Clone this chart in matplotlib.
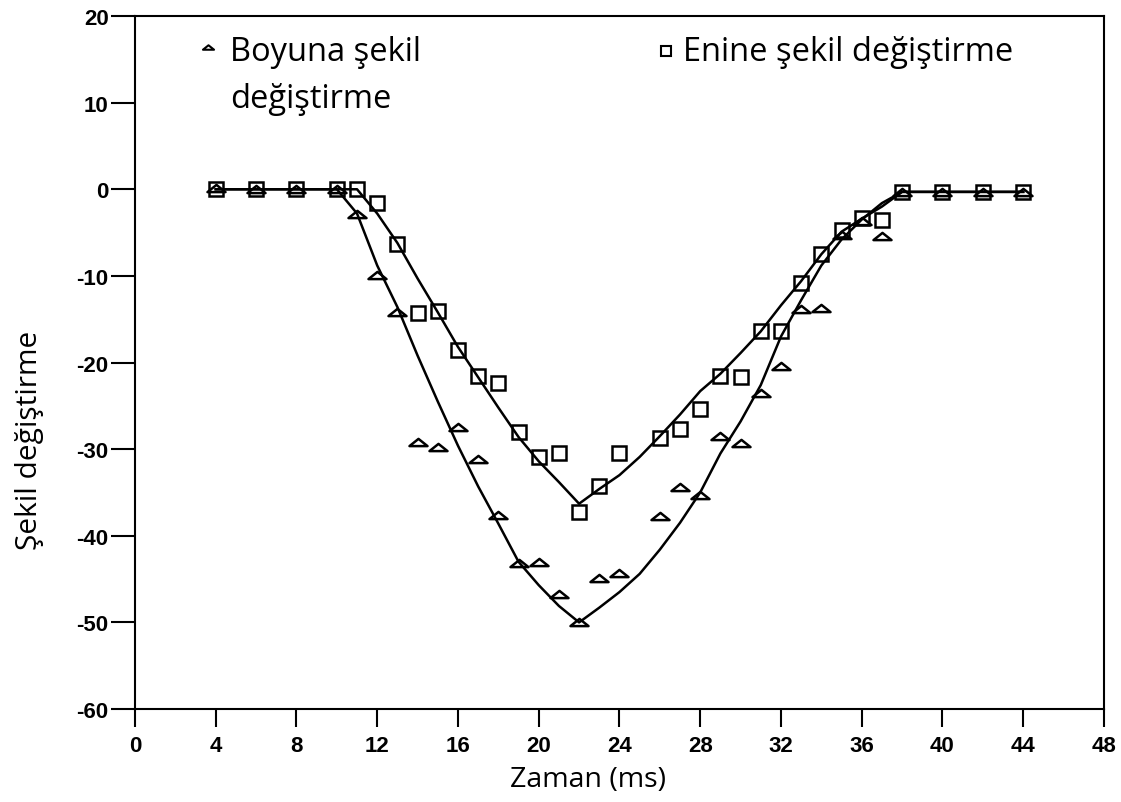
import matplotlib
matplotlib.use("Agg")
import matplotlib.pyplot as plt
from matplotlib.path import Path

# measured points (ms, strain)
boy_t = [4, 6, 8, 10, 11, 12, 13, 14, 15, 16, 17, 18, 19, 20, 21, 22, 23, 24,
         26, 27, 28, 29, 30, 31, 32, 33, 34, 35, 36, 37, 38, 40, 42, 44]
boy_v = [0.2, 0, 0, 0, -2.9, -9.9, -14.2, -29.2, -29.7, -27.4, -31.1, -37.6,
         -43.1, -43.0, -46.7, -50.0, -44.9, -44.3, -37.7, -34.4, -35.3, -28.5,
         -29.3, -23.5, -20.4, -13.8, -13.7, -5.3, -3.7, -5.4, -0.3, -0.3,
         -0.3, -0.3]

en_t = [4, 6, 8, 10, 11, 12, 13, 14, 15, 16, 17, 18, 19, 20, 21, 22, 23, 24,
        26, 27, 28, 29, 30, 31, 32, 33, 34, 35, 36, 37, 38, 40, 42, 44]
en_v = [0, 0, 0, 0, 0, -1.6, -6.3, -14.3, -14.0, -18.6, -21.5, -22.4, -28.0,
        -30.9, -30.5, -37.2, -34.3, -30.5, -28.7, -27.7, -25.4, -21.6, -21.7,
        -16.4, -16.4, -10.8, -7.5, -4.7, -3.3, -3.5, -0.3, -0.3, -0.3, -0.3]

# fitted curves
fit_t = [4, 6, 8, 10, 11, 12, 13, 14, 15, 16, 17, 18, 19, 20, 21, 22, 23, 24,
         25, 26, 27, 28, 29, 30, 31, 32, 33, 34, 35, 36, 37, 38, 40, 42, 44]
boy_fit = [0, 0, 0, 0, -2.8, -8.8, -13.6, -19.2, -24.5, -29.6, -34.3, -38.6,
           -43.0, -45.7, -48.1, -50.0, -48.3, -46.5, -44.4, -41.6, -38.5,
           -35.0, -30.5, -26.8, -22.6, -17.0, -12.8, -8.8, -5.8, -3.5, -1.6,
           -0.3, -0.3, -0.3, -0.3]
en_fit = [0, 0, 0, 0, 0, -2.8, -6.2, -10.3, -14.2, -18.2, -21.7, -25.2,
          -28.6, -31.4, -33.8, -36.3, -34.6, -33.0, -30.9, -28.5, -26.0,
          -23.3, -21.3, -18.9, -16.4, -13.4, -10.6, -7.5, -4.9, -3.4, -2.0,
          -0.3, -0.3, -0.3, -0.3]

xticks = list(range(0, 49, 4))
yticks = list(range(-60, 21, 10))

# flat open triangle
tri = Path([(-1, -0.4), (1, -0.4), (0, 0.4), (-1, -0.4)],
           [Path.MOVETO, Path.LINETO, Path.LINETO, Path.CLOSEPOLY])

txt_font = ["Open Sans", "DejaVu Sans"]
tick_font = ["Liberation Sans Narrow", "Liberation Sans", "DejaVu Sans"]

fig = plt.figure(figsize=(11.21, 8.03), dpi=100)
ax = fig.add_axes([0.1204, 0.1158, 0.8644, 0.8630])

ax.plot(fit_t, en_fit, color="black", lw=1.8)
ax.plot(fit_t, boy_fit, color="black", lw=1.8)
ax.plot(en_t, en_v, ls="none", marker="s", ms=10, mfc="none", mec="black", mew=1.8)
ax.plot(boy_t, boy_v, ls="none", marker=tri, ms=13, mfc="none", mec="black", mew=1.8)

ax.set_xlim(0, 48)
ax.set_ylim(-60, 20)
ax.set_xticks(xticks)
ax.set_yticks(yticks)
ax.set_xticklabels([str(v) for v in xticks], family=tick_font, weight="bold", fontsize=16)
ax.set_yticklabels([str(v) for v in yticks], family=tick_font, weight="bold", fontsize=16)
ax.tick_params(axis="y", direction="out", length=17, width=1.5, pad=2)
ax.tick_params(axis="x", direction="out", length=13, width=1.5, pad=6)
for s in ax.spines.values():
    s.set_linewidth(1.5)

fig.text(30 / 1121, 1 - 440 / 803, "Şekil değiştirme", rotation=90, family=txt_font,
         fontsize=21.5, ha="center", va="center")
fig.text(588 / 1121, 1 - 780 / 803, "Zaman (ms)", family=txt_font, fontsize=20.5,
         ha="center", va="center")

# legend drawn in data space
ax.plot([3.6], [16.4], ls="none", marker=tri, ms=8, mfc="none", mec="black", mew=1.5)
ax.text(4.7, 15.9, "Boyuna şekil", family=txt_font, fontsize=23.5,
        ha="left", va="center")
ax.text(4.7, 10.5, "değiştirme", family=txt_font, fontsize=23.5,
        ha="left", va="center")
ax.plot([26.3], [16.0], ls="none", marker="s", ms=6.5, mfc="none", mec="black", mew=1.5)
ax.text(27.15, 15.9, "Enine şekil değiştirme", family=txt_font, fontsize=23.5,
        ha="left", va="center")

fig.savefig("out.png", dpi=100)
